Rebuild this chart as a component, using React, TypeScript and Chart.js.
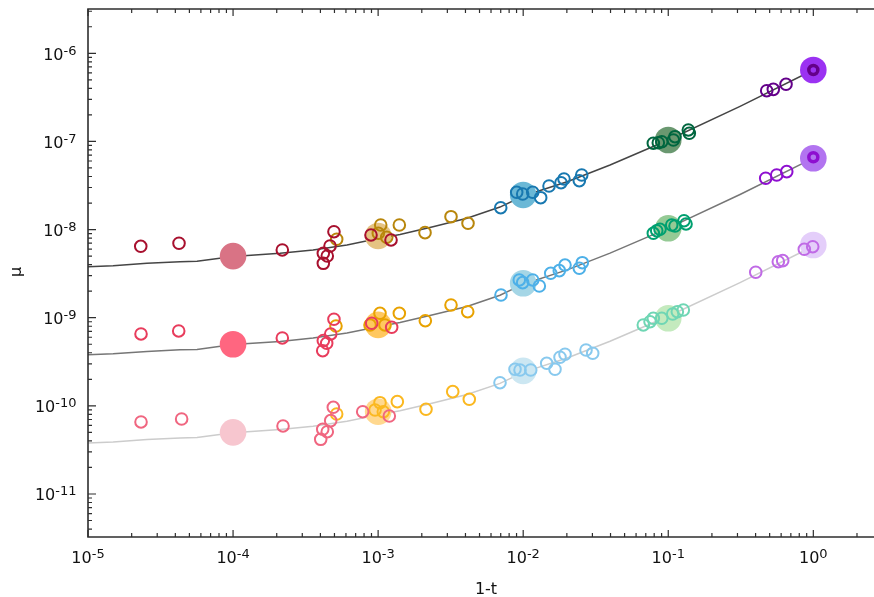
import React, { useEffect, useRef } from 'react';
import { Chart, registerables } from 'chart.js';

Chart.register(...registerables);

type P = [number, number];

// ---------- axis ranges & tick labels ----------
const xMin = 1e-5;
const xMax = 2.62;
const yMin = 3.25e-12;
const yMax = 3.18e-6;
const xTickExps = [-5, -4, -3, -2, -1, 0];
const yTickExps = [-11, -10, -9, -8, -7, -6];
const xTitle = '1-t';
const yTitle = 'μ';

// ---------- model curves ----------
const curveX = [1e-5, 1.49e-5, 2.55e-5, 4.31e-5, 5.64e-5, 1e-4, 2.11e-4, 3.56e-4, 6.1e-4, 1e-3, 1.415e-3, 2.39e-3, 4.1e-3, 6.92e-3, 1e-2, 2.01e-2, 3.97e-2, 1e-1, 0.3125, 1];
const curveTop = [3.79e-9, 3.89e-9, 4.14e-9, 4.32e-9, 4.37e-9, 4.95e-9, 5.38e-9, 5.87e-9, 6.69e-9, 7.9e-9, 8.8e-9, 1.078e-8, 1.343e-8, 1.8e-8, 2.4e-8, 3.49e-8, 5.4e-8, 1.038e-7, 2.5e-7, 6.46e-7];
const curveMid = [3.79e-10, 3.89e-10, 4.14e-10, 4.32e-10, 4.37e-10, 4.95e-10, 5.38e-10, 5.87e-10, 6.69e-10, 7.9e-10, 8.8e-10, 1.078e-9, 1.343e-9, 1.8e-9, 2.4e-9, 3.49e-9, 5.4e-9, 1.038e-8, 2.5e-8, 6.46e-8];
const curveLow = [3.79e-11, 3.89e-11, 4.14e-11, 4.32e-11, 4.37e-11, 4.95e-11, 5.38e-11, 5.87e-11, 6.69e-11, 7.9e-11, 8.8e-11, 1.078e-10, 1.343e-10, 1.8e-10, 2.4e-10, 3.49e-10, 5.4e-10, 1.038e-9, 2.5e-9, 6.46e-9];

// ---------- large reference markers ----------
const bigX = [1e-4, 1e-3, 1e-2, 1e-1, 1];
const bigTop = [5.0e-9, 8.46e-9, 2.47e-8, 1.038e-7, 6.46e-7];
const bigMid = [5.0e-10, 8.3e-10, 2.46e-9, 1.034e-8, 6.44e-8];
const bigLow = [5.0e-11, 8.58e-11, 2.49e-10, 9.85e-10, 6.68e-9];

// ---------- measurements: top row ----------
const topRed: P[] = [[2.31e-5, 6.46e-9], [4.24e-5, 6.99e-9], [2.185e-4, 5.87e-9], [4.96e-4, 9.46e-9], [4.66e-4, 6.51e-9], [4.19e-4, 5.38e-9], [4.46e-4, 5.01e-9], [4.19e-4, 4.14e-9], [8.93e-4, 8.68e-9], [1.227e-3, 7.62e-9]];
const topGold: P[] = [[5.18e-4, 7.76e-9], [1.042e-3, 1.127e-8], [1.003e-3, 9.07e-9], [1.146e-3, 8.18e-9], [1.40e-3, 1.127e-8], [2.105e-3, 9.22e-9], [3.18e-3, 1.40e-8], [4.165e-3, 1.178e-8]];
const topBlue: P[] = [[7.0e-3, 1.771e-8], [9.02e-3, 2.649e-8], [9.92e-3, 2.533e-8], [1.163e-2, 2.649e-8], [1.32e-2, 2.30e-8], [1.507e-2, 3.12e-8], [1.823e-2, 3.40e-8], [1.911e-2, 3.75e-8], [2.437e-2, 3.585e-8], [2.532e-2, 4.16e-8]];
const topGreen: P[] = [[7.89e-2, 9.53e-8], [8.54e-2, 9.67e-8], [9.02e-2, 9.93e-8], [0.1084, 1.038e-7], [0.1113, 1.132e-7], [0.1375, 1.349e-7], [0.1397, 1.237e-7]];
const topPurple: P[] = [[0.4772, 3.76e-7], [0.530, 3.90e-7], [0.6484, 4.45e-7]];
const topPurpleCore: P[] = [[1.0, 6.46e-7]];

// ---------- measurements: middle row ----------
const midRed: P[] = [[2.32e-5, 6.54e-10], [4.22e-5, 7.07e-10], [2.185e-4, 5.89e-10], [4.96e-4, 9.60e-10], [4.71e-4, 6.54e-10], [4.19e-4, 5.49e-10], [4.42e-4, 5.13e-10], [4.15e-4, 4.22e-10], [9.03e-4, 8.65e-10], [1.24e-3, 7.79e-10]];
const midGold: P[] = [[5.12e-4, 8.05e-10], [1.03e-3, 1.122e-9], [8.79e-4, 8.27e-10], [1.115e-3, 8.27e-10], [1.40e-3, 1.122e-9], [2.115e-3, 9.25e-10], [3.18e-3, 1.394e-9], [4.145e-3, 1.17e-9]];
const midBlue: P[] = [[7.03e-3, 1.81e-9], [9.40e-3, 2.68e-9], [9.92e-3, 2.50e-9], [1.163e-2, 2.68e-9], [1.292e-2, 2.29e-9], [1.548e-2, 3.19e-9], [1.774e-2, 3.42e-9], [1.942e-2, 3.96e-9], [2.437e-2, 3.64e-9], [2.556e-2, 4.21e-9]];
const midGreen: P[] = [[7.89e-2, 9.07e-9], [8.33e-2, 9.71e-9], [8.77e-2, 1.007e-8], [0.1056, 1.127e-8], [0.1113, 1.098e-8], [0.1284, 1.26e-8], [0.1326, 1.157e-8]];
const midPurple: P[] = [[0.4697, 3.82e-8], [0.5593, 4.16e-8], [0.6557, 4.54e-8]];
const midPurpleCore: P[] = [[1.0, 6.61e-8]];

// ---------- measurements: bottom row ----------
const lowRed: P[] = [[2.32e-5, 6.56e-11], [4.42e-5, 7.09e-11], [2.21e-4, 5.91e-11], [4.91e-4, 9.63e-11], [4.71e-4, 6.79e-11], [4.15e-4, 5.42e-11], [4.46e-4, 5.09e-11], [4.02e-4, 4.17e-11], [7.83e-4, 8.58e-11], [1.194e-3, 7.67e-11]];
const lowGold: P[] = [[5.18e-4, 8.08e-11], [1.03e-3, 1.086e-10], [9.52e-4, 8.97e-11], [1.086e-3, 8.58e-11], [1.356e-3, 1.115e-10], [2.138e-3, 9.14e-11], [3.268e-3, 1.448e-10], [4.25e-3, 1.187e-10]];
const lowBlue: P[] = [[6.92e-3, 1.83e-10], [8.78e-3, 2.60e-10], [9.51e-3, 2.55e-10], [1.127e-2, 2.55e-10], [1.452e-2, 3.04e-10], [1.657e-2, 2.60e-10], [1.794e-2, 3.56e-10], [1.942e-2, 3.85e-10], [2.711e-2, 4.30e-10], [3.015e-2, 3.95e-10]];
const lowGreen: P[] = [[6.73e-2, 8.27e-10], [7.49e-2, 9.01e-10], [7.89e-2, 9.85e-10], [9.02e-2, 9.85e-10], [0.1073, 1.102e-9], [0.1155, 1.17e-9], [0.127, 1.223e-9]];
const lowPurple: P[] = [[0.4009, 3.28e-9], [0.5737, 4.32e-9], [0.6152, 4.44e-9], [0.8667, 5.97e-9], [0.9905, 6.39e-9]];

// ---------- styles ----------
const FONT = '"DejaVu Sans", "Liberation Sans", sans-serif';
const lineColors = { top: '#454545', mid: '#767676', low: '#cccccc' };
const openColors = {
  top: { red: '#a8102e', gold: '#b8860b', blue: '#1878b0', green: '#00663f', purple: '#64008a' },
  mid: { red: '#e83c5c', gold: '#e8a200', blue: '#4db0e8', green: '#00a070', purple: '#8e0fd0' },
  low: { red: '#f06680', gold: '#fbb820', blue: '#88c9ee', green: '#6fd6b4', purple: '#c06ae6' },
};
const bigColors = {
  top: ['#d97385', '#e5c382', '#6bb8d6', '#6a9870', '#9b32f2'],
  mid: ['#ff6680', '#ffc85f', '#a5d6e6', '#95ca95', '#b274f0'],
  low: ['#f7c6cf', '#ffd88f', '#cce7f2', '#c4eabe', '#e4cefa'],
};

const toPts = (a: P[]) => a.map(([x, y]) => ({ x, y }));
const zip = (xs: number[], ys: number[]) => xs.map((x, i) => ({ x, y: ys[i] }));

const lineDs = (ys: number[], color: string) => ({
  data: zip(curveX, ys),
  showLine: true,
  pointRadius: 0,
  pointHoverRadius: 0,
  borderColor: color,
  borderWidth: 1.5,
  fill: false,
  tension: 0,
  order: 30,
});

const bigDs = (ys: number[], colors: string[]) => ({
  data: zip(bigX, ys),
  showLine: false,
  pointRadius: 13.3,
  pointHoverRadius: 13.3,
  pointBorderWidth: 0,
  pointBackgroundColor: colors,
  pointBorderColor: colors,
  backgroundColor: colors,
  borderColor: colors,
  order: 20,
});

const openDs = (pts: P[], color: string, r = 5.8, bw = 2, order = 10) => ({
  data: toPts(pts),
  showLine: false,
  pointRadius: r,
  pointHoverRadius: r,
  pointBorderWidth: bw,
  pointHoverBorderWidth: bw,
  pointBorderColor: color,
  pointBackgroundColor: 'rgba(0,0,0,0)',
  borderColor: color,
  backgroundColor: 'rgba(0,0,0,0)',
  order,
});

const axesPlugin = {
  id: 'paperAxes',
  afterDraw(chart: any) {
    const { ctx, chartArea, scales } = chart;
    const { left, right, top, bottom } = chartArea;
    const xs = scales.x;
    const ys = scales.y;
    ctx.save();

    // frame (left, top, bottom)
    ctx.strokeStyle = '#2e2e2e';
    ctx.lineWidth = 1.6;
    ctx.beginPath();
    ctx.moveTo(right, top);
    ctx.lineTo(left, top);
    ctx.lineTo(left, bottom);
    ctx.lineTo(right, bottom);
    ctx.stroke();

    // ticks (inward)
    ctx.lineWidth = 1.2;
    ctx.beginPath();
    for (let e = -6; e <= 1; e++) {
      for (let k = 1; k <= 9; k++) {
        const v = Number(`${k}e${e}`);
        if (v < xMin || v > xMax) continue;
        const p = xs.getPixelForValue(v);
        const len = k === 1 ? 7 : 4;
        ctx.moveTo(p, bottom);
        ctx.lineTo(p, bottom - len);
        ctx.moveTo(p, top);
        ctx.lineTo(p, top + len);
      }
    }
    for (let e = -12; e <= -5; e++) {
      for (let k = 1; k <= 9; k++) {
        const v = Number(`${k}e${e}`);
        if (v < yMin || v > yMax) continue;
        const p = ys.getPixelForValue(v);
        const len = k === 1 ? 8 : 4;
        ctx.moveTo(left, p);
        ctx.lineTo(left + len, p);
      }
    }
    ctx.stroke();

    // tick labels
    ctx.fillStyle = '#111111';
    ctx.textAlign = 'left';
    ctx.textBaseline = 'alphabetic';
    const baseFont = `16px ${FONT}`;
    const expFont = `13px ${FONT}`;

    for (const e of yTickExps) {
      const py = ys.getPixelForValue(Number(`1e${e}`));
      const es = String(e);
      ctx.font = expFont;
      const we = ctx.measureText(es).width;
      ctx.font = baseFont;
      const wb = ctx.measureText('10').width;
      const xr = left - 11.5;
      ctx.fillText('10', xr - we - wb, py + 6.5);
      ctx.font = expFont;
      ctx.fillText(es, xr - we, py + 1.5);
    }

    for (const e of xTickExps) {
      const px = xs.getPixelForValue(Number(`1e${e}`));
      const es = String(e);
      ctx.font = expFont;
      const we = ctx.measureText(es).width;
      ctx.font = baseFont;
      const wb = ctx.measureText('10').width;
      const x0 = px - (we + wb) / 2;
      ctx.fillText('10', x0, bottom + 26);
      ctx.font = expFont;
      ctx.fillText(es, x0 + wb, bottom + 21);
    }

    // axis titles
    ctx.font = baseFont;
    ctx.textAlign = 'center';
    ctx.fillText(xTitle, (left + right) / 2 + 5, bottom + 57);
    ctx.translate(20.5, (top + bottom) / 2 - 1);
    ctx.rotate(-Math.PI / 2);
    ctx.fillText(yTitle, 0, 0);

    ctx.restore();
  },
};

export default function App() {
  const ref = useRef<HTMLCanvasElement>(null);

  useEffect(() => {
    if (!ref.current) return;
    const chart = new Chart(ref.current, {
      type: 'scatter',
      data: {
        datasets: [
          // open circles (drawn on top; earlier = higher)
          openDs(topPurpleCore, openColors.top.purple, 4.5, 3.5, 5),
          openDs(midPurpleCore, openColors.mid.purple, 4.5, 3.5, 5),
          openDs(topRed, openColors.top.red),
          openDs(topGold, openColors.top.gold),
          openDs(topBlue, openColors.top.blue),
          openDs(topGreen, openColors.top.green),
          openDs(topPurple, openColors.top.purple),
          openDs(midRed, openColors.mid.red),
          openDs(midGold, openColors.mid.gold),
          openDs(midBlue, openColors.mid.blue),
          openDs(midGreen, openColors.mid.green),
          openDs(midPurple, openColors.mid.purple),
          openDs(lowRed, openColors.low.red),
          openDs(lowGold, openColors.low.gold),
          openDs(lowBlue, openColors.low.blue),
          openDs(lowGreen, openColors.low.green),
          openDs(lowPurple, openColors.low.purple),
          // big markers
          bigDs(bigTop, bigColors.top),
          bigDs(bigMid, bigColors.mid),
          bigDs(bigLow, bigColors.low),
          // curves
          lineDs(curveTop, lineColors.top),
          lineDs(curveMid, lineColors.mid),
          lineDs(curveLow, lineColors.low),
        ] as any,
      },
      options: {
        responsive: false,
        animation: false,
        devicePixelRatio: 1,
        events: [],
        layout: { autoPadding: false, padding: { left: 88, right: 0, top: 9, bottom: 60 } },
        plugins: {
          legend: { display: false },
          tooltip: { enabled: false },
          title: { display: false },
        },
        scales: {
          x: { type: 'logarithmic', min: xMin, max: xMax, display: false },
          y: { type: 'logarithmic', min: yMin, max: yMax, display: false },
        },
      } as any,
      plugins: [axesPlugin],
    });
    return () => chart.destroy();
  }, []);

  return (
    <div style={{ position: 'fixed', left: 0, top: 0, width: 874, height: 597, background: '#ffffff' }}>
      <canvas ref={ref} width={874} height={597} style={{ display: 'block', width: 874, height: 597 }} />
    </div>
  );
}
